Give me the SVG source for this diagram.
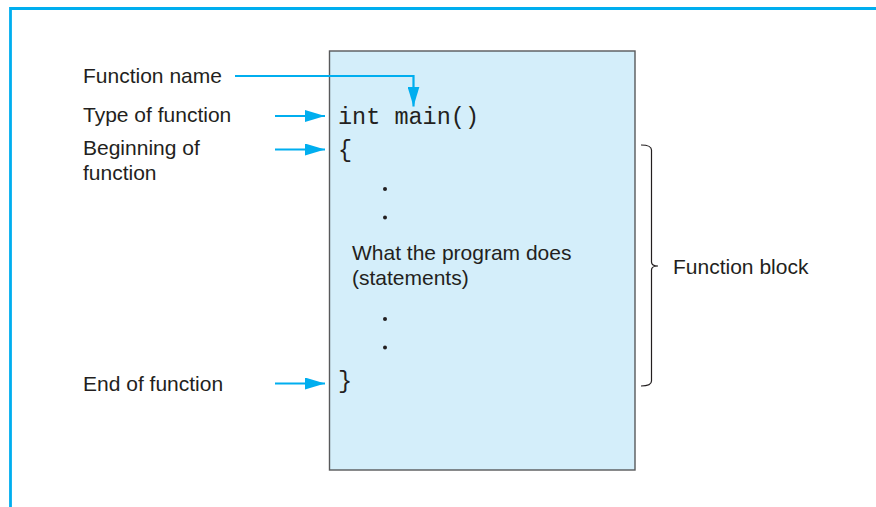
<svg xmlns="http://www.w3.org/2000/svg" width="876" height="507" viewBox="0 0 876 507">
<defs>
<style>
.lbl{font-family:"Liberation Sans",Arial,Helvetica,sans-serif;font-size:21px;fill:#231f20}
.code{font-family:"Liberation Mono","Courier New",monospace;font-size:23.5px;fill:#231f20}
.conn{fill:none;stroke:#00aeef;stroke-width:2.2}
</style>
<marker id="ah" viewBox="0 0 20 12" refX="20" refY="6" markerWidth="20" markerHeight="12" markerUnits="userSpaceOnUse" orient="auto">
<path d="M0,0 L20,6 L0,12 Z" fill="#00aeef"/>
</marker>
</defs>
<rect width="876" height="507" fill="#ffffff"/>
<path d="M10.5,507 V8.5 H876" fill="none" stroke="#00aeef" stroke-width="2.8"/>
<g id="function-box">
<rect x="329.5" y="51" width="305.5" height="419" fill="#d4eefa" stroke="#58595b" stroke-width="1.4"/>
<text class="code" x="338" y="124">int main()</text>
<text class="code" x="338" y="157">{</text>
<circle cx="385" cy="189" r="2" fill="#231f20"/>
<circle cx="385" cy="217.5" r="2" fill="#231f20"/>
<text class="lbl" x="352" y="260">What the program does</text>
<text class="lbl" x="352" y="285">(statements)</text>
<circle cx="385" cy="319" r="2" fill="#231f20"/>
<circle cx="385" cy="347.5" r="2" fill="#231f20"/>
<text class="code" x="338" y="388">}</text>
</g>
<g id="label-function-name"><text class="lbl" x="83" y="83">Function name</text></g>
<g id="label-type"><text class="lbl" x="83" y="122">Type of function</text></g>
<g id="label-beginning"><text class="lbl" x="83" y="154.5">Beginning of</text><text class="lbl" x="83" y="180">function</text></g>
<g id="label-end"><text class="lbl" x="83" y="391">End of function</text></g>
<g id="function-block">
<path d="M641,145 Q651.5,145 651.5,150 V262 Q651.5,266 658,266 Q651.5,266 651.5,270 V381 Q651.5,386 641,386" fill="none" stroke="#231f20" stroke-width="1.2"/>
<text class="lbl" x="673" y="274">Function block</text>
</g>
<g id="connectors">
<path class="conn" d="M235,76 H413.5 V106.5" marker-end="url(#ah)"/>
<path class="conn" d="M275,116 H325" marker-end="url(#ah)"/>
<path class="conn" d="M275,149.5 H325" marker-end="url(#ah)"/>
<path class="conn" d="M275,383.5 H325" marker-end="url(#ah)"/>
</g>
</svg>
